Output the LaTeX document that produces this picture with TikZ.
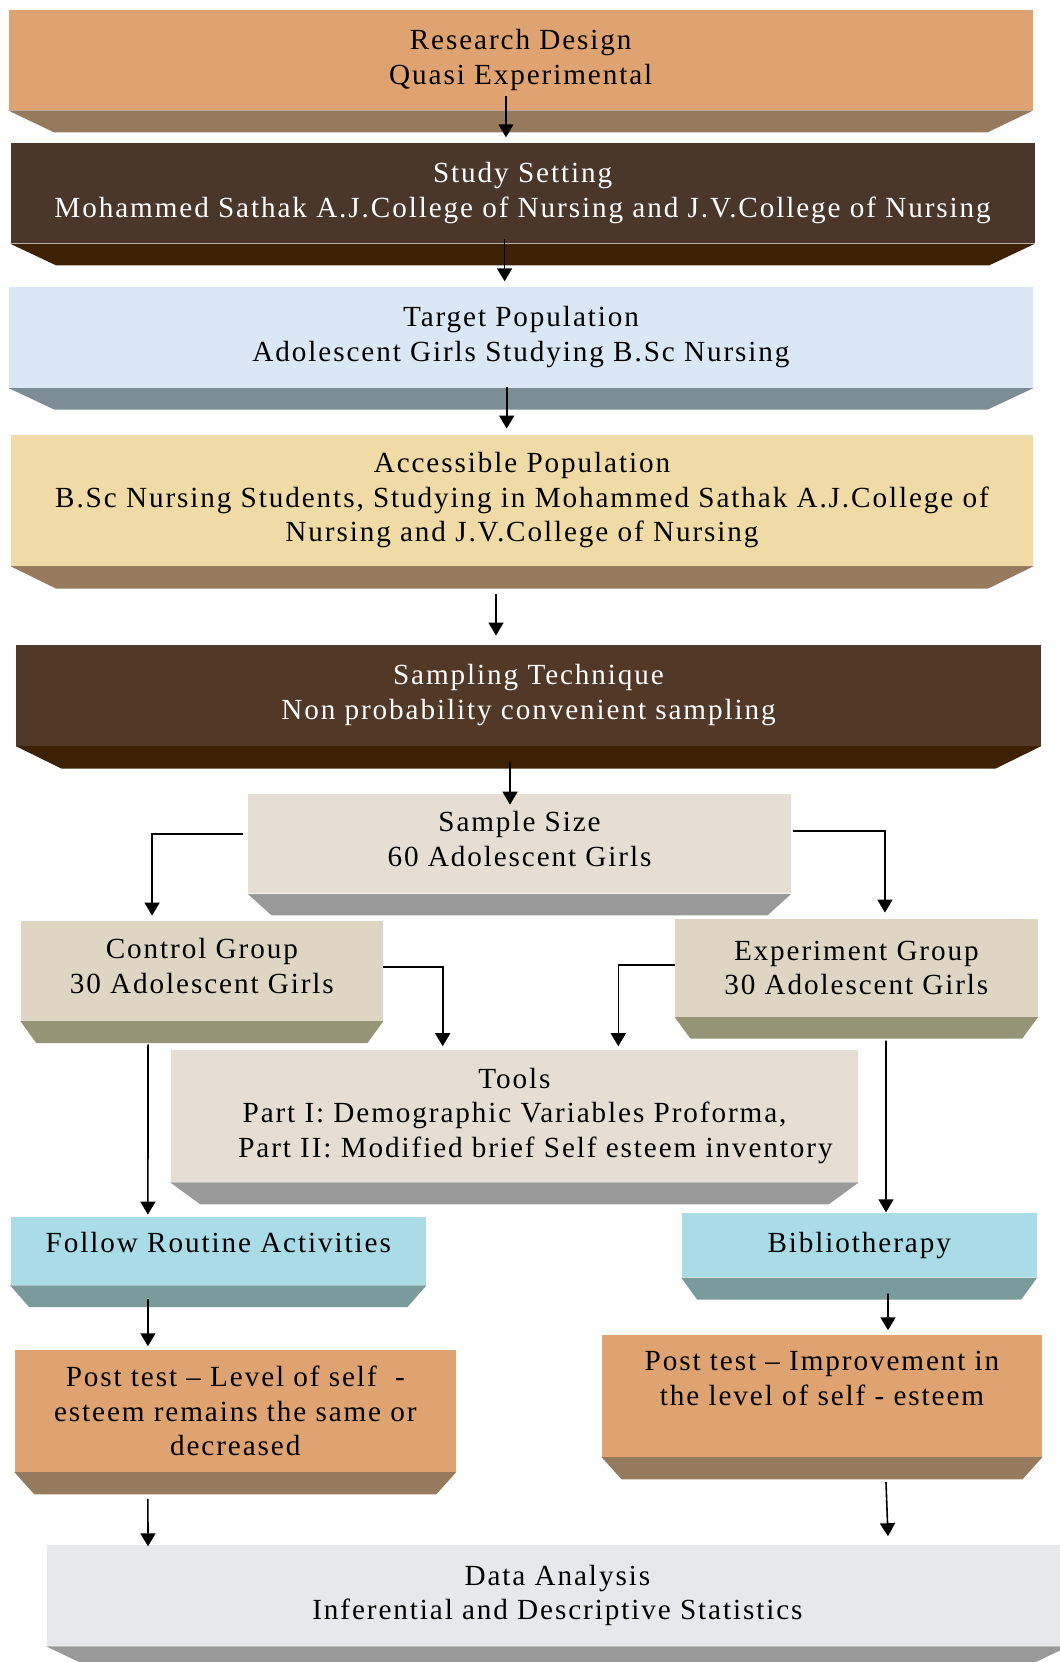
\documentclass[tikz,border=0pt]{standalone}
\usepackage{fontspec}
\setmainfont{Liberation Serif}[LetterSpace=6.5]
\usetikzlibrary{calc,arrows.meta}

\definecolor{woodtop}{RGB}{222,163,112}
\definecolor{woodside}{RGB}{150,122,93}
\definecolor{darktop}{RGB}{75,55,42}
\definecolor{darkside}{RGB}{60,33,5}
\definecolor{skytop}{RGB}{218,232,246}
\definecolor{skyside}{RGB}{124,141,152}
\definecolor{papertop}{RGB}{240,218,165}
\definecolor{marbletop}{RGB}{82,56,38}
\definecolor{stonetop}{RGB}{230,222,210}
\definecolor{stoneside}{RGB}{153,153,153}
\definecolor{linentop}{RGB}{222,213,195}
\definecolor{linenside}{RGB}{150,148,118}
\definecolor{watertop}{RGB}{170,220,232}
\definecolor{waterside}{RGB}{122,155,155}
\definecolor{greytop}{RGB}{230,232,235}

\tikzset{
  face/.style={rectangle, inner sep=0pt, align=center, font=\fontsize{14.6}{17.3}\selectfont},
  arr/.style={-{Triangle[width=7.5pt,length=6.5pt]}, line width=0.8pt},
}

\begin{document}
\begin{tikzpicture}[x=0.5pt,y=-0.5pt]
  \useasboundingbox (0,0) rectangle (1060,1662);
  \clip (0,0) rectangle (1060,1662);

  % main column
  \node[face, fill=woodtop, minimum width=512.25pt, minimum height=50pt] (design) at (520.75,60) {Research Design\\Quasi Experimental};
  \fill[woodside] (design.south west) -- (design.south east) -- ++(-46,22) -- ($(design.south west)+(46,22)$) -- cycle;
  \node[face, fill=darktop, text=white, minimum width=512pt, minimum height=50pt] (setting) at (522.6,193.3) {Study Setting\\Mohammed Sathak A.J.College of Nursing and J.V.College of Nursing};
  \fill[darkside] (setting.south west) -- (setting.south east) -- ++(-46,21.7) -- ($(setting.south west)+(46,21.7)$) -- cycle;
  \node[face, fill=skytop, minimum width=512pt, minimum height=50.5pt] (target) at (521,337.2) {Target Population\\Adolescent Girls Studying B.Sc Nursing};
  \fill[skyside] (target.south west) -- (target.south east) -- ++(-46,21.6) -- ($(target.south west)+(46,21.6)$) -- cycle;
  \node[face, fill=papertop, minimum width=511.45pt, minimum height=65.55pt] (access) at (522,500.1) {Accessible Population\\B.Sc Nursing Students, Studying in Mohammed Sathak A.J.College of\\Nursing and J.V.College of Nursing};
  \fill[woodside] (access.south west) -- (access.south east) -- ++(-46,22.6) -- ($(access.south west)+(46,22.6)$) -- cycle;
  \node[face, fill=marbletop, text=white, minimum width=512.5pt, minimum height=50.35pt] (sampling) at (528.5,695.3) {Sampling Technique\\Non probability convenient sampling};
  \fill[darkside] (sampling.south west) -- (sampling.south east) -- ++(-46,22.6) -- ($(sampling.south west)+(46,22.6)$) -- cycle;
  \node[face, fill=stonetop, minimum width=271.5pt, minimum height=49.65pt, text depth=5pt] (sample) at (519.5,843.7) {Sample Size\\60 Adolescent Girls};
  \fill[stoneside] (sample.south west) -- (sample.south east) -- ++(-24,21.7) -- ($(sample.south west)+(24,21.7)$) -- cycle;

  % the two groups
  \node[face, fill=linentop, minimum width=181.15pt, minimum height=49.85pt, text depth=5pt] (control) at (201.85,970.85) {Control Group\\30 Adolescent Girls};
  \fill[linenside] (control.south west) -- (control.south east) -- ++(-16,22) -- ($(control.south west)+(16,22)$) -- cycle;
  \node[face, fill=linentop, minimum width=181.35pt, minimum height=48.85pt] (exper) at (856.35,967.85) {Experiment Group\\30 Adolescent Girls};
  \fill[linenside] (exper.south west) -- (exper.south east) -- ++(-16,21.6) -- ($(exper.south west)+(16,21.6)$) -- cycle;
  \node[face, fill=stonetop, minimum width=343.8pt, minimum height=66pt] (tools) at (514.5,1116) {Tools\\Part I: Demographic Variables Proforma,\\\hspace*{21pt}Part II: Modified brief Self esteem inventory};
  \fill[stoneside] (tools.south west) -- (tools.south east) -- ++(-30,22) -- ($(tools.south west)+(30,22)$) -- cycle;
  \node[face, fill=watertop, minimum width=207.7pt, minimum height=33.85pt, text depth=8.5pt] (follow) at (218.3,1251.2) {Follow Routine Activities};
  \fill[waterside] (follow.south west) -- (follow.south east) -- ++(-19,21.7) -- ($(follow.south west)+(19,21.7)$) -- cycle;
  \node[face, fill=watertop, minimum width=177.55pt, minimum height=32pt] (biblio) at (859.2,1245.3) {Bibliotherapy};
  \fill[waterside] (biblio.south west) -- (biblio.south east) -- ++(-16,22) -- ($(biblio.south west)+(16,22)$) -- cycle;
  \node[face, fill=woodtop, minimum width=220.5pt, minimum height=60.85pt] (postl) at (235.3,1410.9) {Post test -- Level of self \ -\\esteem remains the same or\\decreased};
  \fill[woodside] (postl.south west) -- (postl.south east) -- ++(-20,22.3) -- ($(postl.south west)+(20,22.3)$) -- cycle;
  \node[face, fill=woodtop, minimum width=220pt, minimum height=60.85pt] (postr) at (822,1395.9) {Post test -- Improvement in\\the level of self - esteem\\\mbox{}};
  \fill[woodside] (postr.south west) -- (postr.south east) -- ++(-20,22.3) -- ($(postr.south west)+(20,22.3)$) -- cycle;
  \node[face, fill=greytop, minimum width=510.65pt, minimum height=50.5pt] (data) at (557.4,1595.5) {Data Analysis\\Inferential and Descriptive Statistics};
  \fill[stoneside] (data.south west) -- (data.south east) -- ++(-46,22) -- ($(data.south west)+(46,22)$) -- cycle;

  % arrows
  \draw[arr] ([xshift=-7.4pt,yshift=7.15pt]design.south) -- ([xshift=-8.3pt,yshift=2.8pt]setting.north);
  \draw[arr] ([xshift=-9pt,yshift=2.15pt]setting.south) -- ([xshift=-8.2pt,yshift=2.5pt]target.north);
  \draw[arr] ([xshift=-7.15pt,yshift=0.35pt]target.south) -- ([xshift=-7.65pt,yshift=2.8pt]access.north);
  \draw[arr] ([xshift=-13pt,yshift=-13.8pt]access.south) -- ([xshift=-16.25pt,yshift=4.5pt]sampling.north);
  \draw[arr] ([xshift=-9.25pt,yshift=-8pt]sampling.south) -- ([xshift=-4.75pt,yshift=-5.5pt]sample.north);
  \draw[arr] ([xshift=-2.1pt,yshift=4.85pt]sample.west) -| ([xshift=-24.9pt,yshift=2.5pt]control.north);
  \draw[arr] ([xshift=1pt,yshift=6.35pt]sample.east) -| ([xshift=14.3pt,yshift=3pt]exper.north);
  \draw[arr] ([yshift=2pt]control.east) -| ([xshift=-35.9pt,yshift=1.7pt]tools.north);
  \draw[arr] ([yshift=1.5pt]exper.west) -| ([xshift=51.9pt,yshift=1.7pt]tools.north);
  \draw[arr] ([xshift=-26.9pt,yshift=-11.6pt]control.south) -- ([xshift=-35.2pt,yshift=1.2pt]follow.north);
  \draw[arr] ([xshift=14.8pt,yshift=-11.7pt]exper.south) -- ([xshift=13.4pt,yshift=0.3pt]biblio.north);
  \draw[arr] ([xshift=-35.2pt,yshift=-6.7pt]follow.south) -- ([xshift=-43.7pt,yshift=1.7pt]postl.north);
  \draw[arr] ([xshift=14.4pt,yshift=-8pt]biblio.south) -- ([xshift=33pt,yshift=2.2pt]postr.north);
  \draw[arr] ([xshift=-43.7pt,yshift=-13.3pt]postl.south) -- ([xshift=-204.7pt,yshift=-0.85pt]data.north);
  \draw[arr] ([xshift=32pt,yshift=-12.5pt]postr.south) -- ([xshift=165.3pt,yshift=4.2pt]data.north);
\end{tikzpicture}
\end{document}
